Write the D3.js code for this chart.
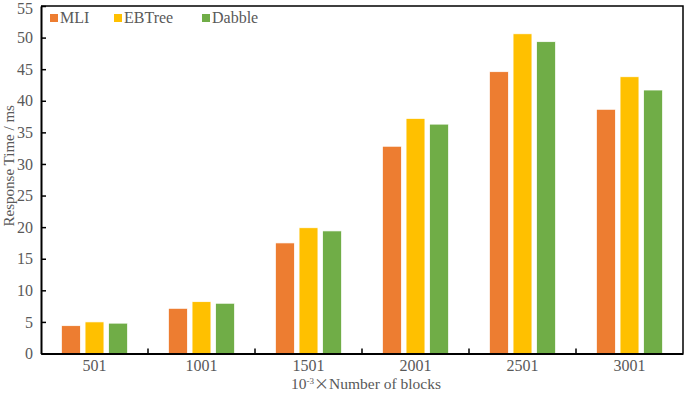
<!DOCTYPE html>
<html>
<head>
<meta charset="utf-8">
<script src="https://cdn.jsdelivr.net/npm/d3@7"></script>
<style>
  body { margin: 0; background: #fff; }
  text { font-family: "Liberation Serif", "Times New Roman", serif; }
</style>
</head>
<body>
<svg id="chart"></svg>
<script>
const width = 685;
const height = 393;
const margin = {top: 6, right: 2, bottom: 39.5, left: 41};

const categories = ['501', '1001', '1501', '2001', '2501', '3001'];
const series = ['MLI', 'EBTree', 'Dabble'];
const mli = [4.4, 7.15, 17.5, 32.8, 44.6, 38.65];
const ebtree = [5.0, 8.2, 19.9, 37.2, 50.6, 43.8];
const dabble = [4.8, 7.95, 19.4, 36.3, 49.35, 41.7];
const yTicks = [0, 5, 10, 15, 20, 25, 30, 35, 40, 45, 50, 55];
const colors = ['#ED7D31', '#FFC000', '#70AD47'];

const values = [mli, ebtree, dabble];
const rows = categories.map((c, i) => ({cat: c, vals: series.map((s, j) => ({key: s, value: values[j][i]}))}));

const svg = d3.select('#chart').attr('width', width).attr('height', height);

const x0 = d3.scaleBand().domain(categories).range([margin.left, width - margin.right]);
const groupW = 66;
const x1 = d3.scaleBand().domain(series)
    .range([(x0.bandwidth() - groupW) / 2, (x0.bandwidth() + groupW) / 2])
    .paddingInner(0.2);
const y = d3.scaleLinear().domain([0, 55]).range([height - margin.bottom, margin.top]);
const color = d3.scaleOrdinal().domain(series).range(colors);

// bars
svg.append('g').selectAll('g').data(rows).enter().append('g')
    .attr('transform', d => `translate(${x0(d.cat)},0)`)
  .selectAll('rect').data(d => d.vals).enter().append('rect')
    .attr('x', d => x1(d.key))
    .attr('y', d => y(d.value))
    .attr('width', x1.bandwidth())
    .attr('height', d => y(0) - y(d.value))
    .attr('fill', d => color(d.key))
    .attr('stroke', '#fff')
    .attr('stroke-width', 0.7);

// frame top / right
svg.append('path')
    .attr('d', `M${margin.left},${margin.top}H${width - margin.right}V${y(0)}`)
    .attr('fill', 'none').attr('stroke', '#000').attr('stroke-width', 1.5);

// y axis
const yAxis = svg.append('g').attr('transform', `translate(${margin.left},0)`)
    .call(d3.axisLeft(y).tickValues(yTicks).tickSizeInner(-5).tickSizeOuter(0).tickPadding(8));
yAxis.select('.domain').attr('stroke', '#000').attr('stroke-width', 2);
yAxis.selectAll('.tick line').attr('stroke', '#000').attr('stroke-width', 1.5);
yAxis.selectAll('text').attr('font-size', 16).attr('fill', '#595959')
    .attr('font-family', '"Liberation Serif", serif');
yAxis.selectAll('.tick').filter(d => d === 55).select('text').attr('dy', '0.48em');

// x axis labels
const xAxis = svg.append('g').attr('transform', `translate(0,${y(0)})`)
    .call(d3.axisBottom(x0).tickSize(0).tickPadding(6));
xAxis.select('.domain').attr('stroke', '#000').attr('stroke-width', 2);
xAxis.selectAll('text').attr('font-size', 16).attr('fill', '#595959')
    .attr('font-family', '"Liberation Serif", serif');

// boundary ticks between groups
svg.append('g').selectAll('line').data(categories.slice(1)).enter().append('line')
    .attr('x1', d => x0(d)).attr('x2', d => x0(d))
    .attr('y1', y(0)).attr('y2', y(0) - 5)
    .attr('stroke', '#000').attr('stroke-width', 1.5);

// axis titles
const xTitle = svg.append('text')
    .attr('x', (margin.left + width - margin.right) / 2 + 4)
    .attr('y', 388.5)
    .attr('text-anchor', 'middle')
    .attr('font-size', 15.5).attr('fill', '#595959');
xTitle.append('tspan').text('10');
xTitle.append('tspan').attr('dy', -5).attr('font-size', 9).text('-3');
xTitle.append('tspan').attr('dy', 5).attr('font-size', 15).attr('font-family', '"Noto Sans CJK SC", sans-serif').text('×');
xTitle.append('tspan').text('Number of blocks');

svg.append('text')
    .attr('transform', `translate(14,${(margin.top + y(0)) / 2 - 14}) rotate(-90)`)
    .attr('text-anchor', 'middle')
    .attr('font-size', 15).attr('fill', '#595959')
    .text('Response Time / ms');

// legend
const legendX = [50, 114, 202];
const legend = svg.append('g').selectAll('g').data(series).enter().append('g')
    .attr('transform', (d, i) => `translate(${legendX[i]},14)`);
legend.append('rect').attr('width', 8).attr('height', 8)
    .attr('fill', d => color(d));
legend.append('text').attr('x', 10).attr('y', 9)
    .attr('font-size', 16).attr('fill', '#595959')
    .text(d => d);
</script>
</body>
</html>
